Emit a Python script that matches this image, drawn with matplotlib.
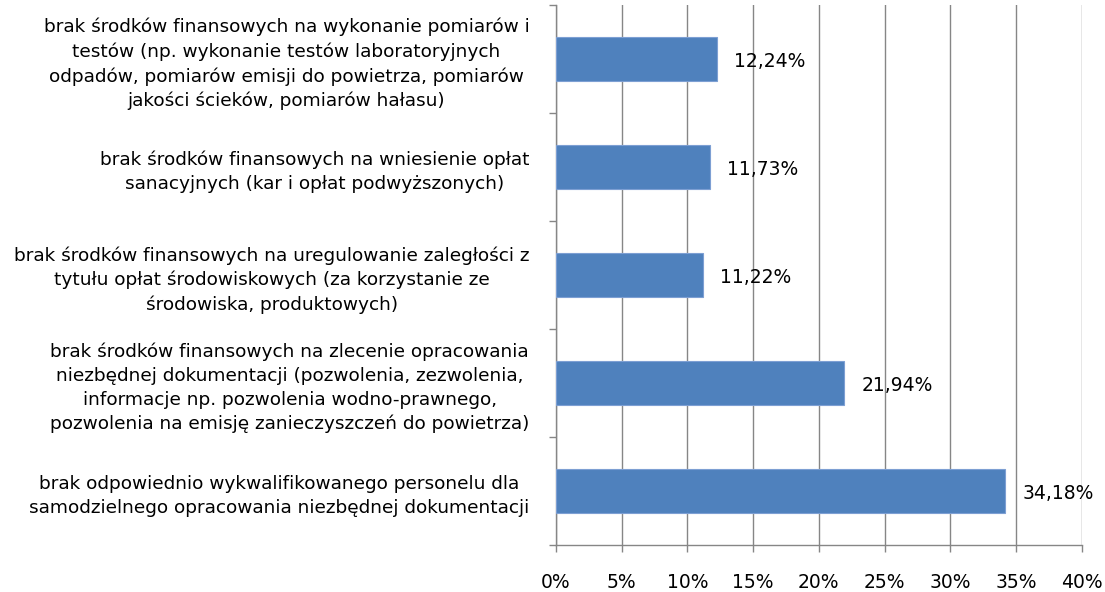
import matplotlib
matplotlib.use('Agg')
import matplotlib.pyplot as plt
import numpy as np

categories = [
    'brak środków finansowych na wykonanie pomiarów i\n'
    'testów (np. wykonanie testów laboratoryjnych\n'
    'odpadów, pomiarów emisji do powietrza, pomiarów\n'
    'jakości ścieków, pomiarów hałasu)',
    'brak środków finansowych na wniesienie opłat\n'
    'sanacyjnych (kar i opłat podwyższonych)',
    'brak środków finansowych na uregulowanie zaległości z\n'
    'tytułu opłat środowiskowych (za korzystanie ze\n'
    'środowiska, produktowych)',
    'brak środków finansowych na zlecenie opracowania\n'
    'niezbędnej dokumentacji (pozwolenia, zezwolenia,\n'
    'informacje np. pozwolenia wodno-prawnego,\n'
    'pozwolenia na emisję zanieczyszczeń do powietrza)',
    'brak odpowiednio wykwalifikowanego personelu dla\n'
    'samodzielnego opracowania niezbędnej dokumentacji',
]
values = [12.24, 11.73, 11.22, 21.94, 34.18]
xticks = [0, 5, 10, 15, 20, 25, 30, 35, 40]

plt.rcParams['font.family'] = ['DejaVu Sans']

fig = plt.figure(figsize=(11.05, 5.92), dpi=100)
ax = fig.add_axes([0.503, 0.0794, 0.476, 0.912])

pos = np.arange(len(categories))
ax.barh(pos, values, height=0.4, color='#4f81bd', edgecolor='#7d9fd3', linewidth=0.8, zorder=3)

for p, v in zip(pos, values):
    ax.text(v + 1.3, p + 0.02, '{:.2f}%'.format(v).replace('.', ','), va='center', ha='left',
            fontsize=13.5, color='black', zorder=4)

ax.set_xlim(0, 40)
ax.set_ylim(len(categories) - 0.5, -0.5)
ax.set_xticks(xticks)
ax.set_xticklabels(['{}%'.format(t) for t in xticks], fontsize=13.5)
ax.grid(axis='x', color='#868686', linewidth=1, zorder=0)

# ticks at band boundaries, labels at band centres
ax.set_yticks(np.arange(len(categories) + 1) - 0.5)
ax.set_yticklabels([])
ax.set_yticks(pos, minor=True)
ax.set_yticklabels(categories, minor=True, fontsize=13.3, multialignment='center',
                   linespacing=1.42)
ax.tick_params(axis='y', which='minor', length=0, pad=19)
ax.tick_params(axis='y', which='major', length=5, color='#868686', width=1)
ax.tick_params(axis='x', length=5, color='#868686', width=1, pad=15)

for s in ['top', 'right']:
    ax.spines[s].set_visible(False)
for s in ['left', 'bottom']:
    ax.spines[s].set_color('#868686')
    ax.spines[s].set_linewidth(1)

plt.savefig('out.png', dpi=100)
plt.close('all')
